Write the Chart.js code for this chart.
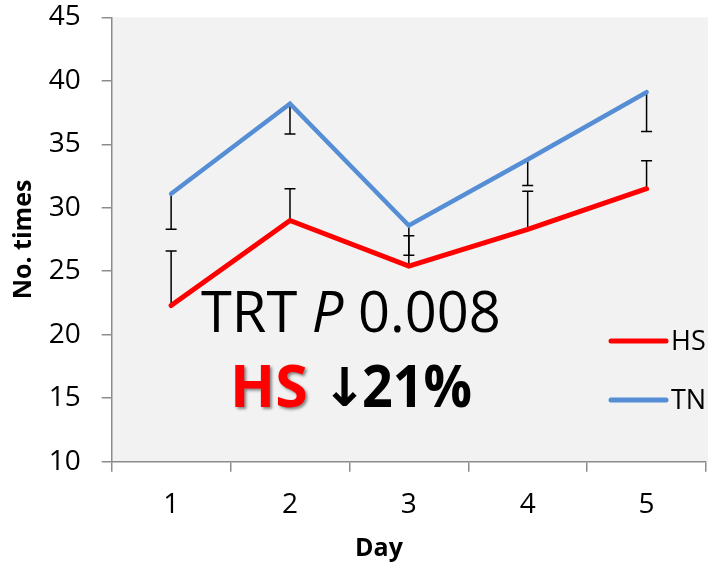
<!DOCTYPE html>
<html>
<head>
<meta charset="utf-8">
<script src="https://cdn.jsdelivr.net/npm/chart.js@4"></script>
<style>
  html, body { margin: 0; padding: 0; background: #fff; }
  #wrap { width: 708px; height: 566px; }
</style>
</head>
<body>
<div id="wrap"><canvas id="myChart" width="708" height="566"></canvas></div>
<script>
// values
const days = ['1', '2', '3', '4', '5'];
const hsValues = [22.3, 29.0, 25.4, 28.3, 31.5];
const tnValues = [31.1, 38.2, 28.6, 33.8, 39.1];
const hsErrUp = [4.3, 2.5, 2.4, 3.0, 2.2];     // HS bars go up
const tnErrDown = [2.8, 2.4, 2.35, 2.05, 3.1]; // TN bars go down
const yMin = 10, yMax = 45, yStep = 5;

const axisGray = '#8c8c8c';
const FONT = "'Open Sans', 'Noto Sans', sans-serif";

// draw text squeezed to a target width if it comes out wider
function fitText(ctx, text, x, y, maxW) {
    const w = ctx.measureText(text).width;
    const sx = w > maxW ? maxW / w : 1;
    ctx.save();
    ctx.translate(x, y);
    ctx.scale(sx, 1);
    ctx.fillText(text, 0, 0);
    ctx.restore();
    return w * sx;
}

const plotBackground = {
    id: 'plotBackground',
    beforeDraw(chart) {
        const ctx = chart.ctx, a = chart.chartArea;
        ctx.save();
        ctx.fillStyle = '#fff';
        ctx.fillRect(0, 0, chart.width, chart.height);
        ctx.fillStyle = '#f2f2f2';
        ctx.fillRect(a.left, a.top, chart.width - a.left, a.bottom - a.top);
        ctx.restore();
    }
};

const errorBars = {
    id: 'errorBars',
    beforeDatasetsDraw(chart) {
        const ctx = chart.ctx, x = chart.scales.x, y = chart.scales.y;
        const sets = [
            { vals: hsValues, err: hsErrUp, dir: 1 },
            { vals: tnValues, err: tnErrDown, dir: -1 }
        ];
        ctx.save();
        ctx.strokeStyle = '#000';
        ctx.lineWidth = 1.5;
        sets.forEach(s => {
            s.vals.forEach((v, i) => {
                const px = x.getPixelForValue(i);
                const p0 = y.getPixelForValue(v);
                const p1 = y.getPixelForValue(v + s.dir * s.err[i]);
                ctx.beginPath();
                ctx.moveTo(px, p0);
                ctx.lineTo(px, p1);
                ctx.moveTo(px - 5.5, p1);
                ctx.lineTo(px + 5.5, p1);
                ctx.stroke();
            });
        });
        ctx.restore();
    }
};

const labelsAndNotes = {
    id: 'labelsAndNotes',
    afterDraw(chart) {
        const ctx = chart.ctx, a = chart.chartArea;
        ctx.save();
        ctx.fillStyle = '#000';

        // axis titles
        ctx.font = 'bold 25px ' + FONT;
        ctx.textAlign = 'center';
        ctx.textBaseline = 'alphabetic';
        ctx.fillText('Day', 379, 556);
        ctx.save();
        ctx.translate(31, (a.top + a.bottom) / 2);
        ctx.rotate(-Math.PI / 2);
        ctx.fillText('No. times', 0, 0);
        ctx.restore();

        // legend inside the plot
        ctx.textAlign = 'left';
        ctx.textBaseline = 'middle';
        ctx.font = '27px ' + FONT;
        const legY = [341, 400];
        chart.data.datasets.forEach((ds, i) => {
            ctx.strokeStyle = ds.borderColor;
            ctx.lineWidth = 5;
            ctx.lineCap = 'round';
            ctx.beginPath();
            ctx.moveTo(611, legY[i]);
            ctx.lineTo(666, legY[i]);
            ctx.stroke();
            ctx.fillStyle = '#000';
            ctx.fillText(ds.label, 671, legY[i] + 1);
        });

        // TRT P 0.008
        ctx.textBaseline = 'alphabetic';
        ctx.fillStyle = '#000';
        let x = 201;
        ctx.font = '56px ' + FONT;
        x += fitText(ctx, 'TRT ', x, 332, 1000);
        ctx.font = 'italic 56px ' + FONT;
        x += fitText(ctx, 'P', x, 332, 1000);
        ctx.font = '56px ' + FONT;
        fitText(ctx, ' 0.008', x, 332, 1000);

        // HS (red, shadowed) then arrow and 21%
        ctx.font = 'bold 59px ' + FONT;
        ctx.save();
        ctx.shadowColor = 'rgba(0,0,0,0.45)';
        ctx.shadowOffsetX = 2;
        ctx.shadowOffsetY = 2;
        ctx.shadowBlur = 3;
        ctx.fillStyle = '#ff0000';
        fitText(ctx, 'HS', 230, 407, 82);
        ctx.restore();

        // arrow glyph scaled into its box
        ctx.font = "bold 60px 'DejaVu Sans'";
        const m = ctx.measureText('\u2193');
        const gw = m.actualBoundingBoxLeft + m.actualBoundingBoxRight;
        const gh = m.actualBoundingBoxAscent + m.actualBoundingBoxDescent;
        ctx.save();
        ctx.translate(332, 367);
        ctx.scale(25 / gw, 40 / gh);
        ctx.fillText('\u2193', m.actualBoundingBoxLeft, m.actualBoundingBoxAscent);
        ctx.restore();

        ctx.font = 'bold 59px ' + FONT;
        fitText(ctx, '21%', 362, 407, 110);
        ctx.restore();
    }
};

const data = {
    labels: days,
    datasets: [
        {
            label: 'HS',
            data: hsValues,
            borderColor: '#ff0000',
            borderWidth: 5,
            borderCapStyle: 'round',
            pointRadius: 0,
            tension: 0
        },
        {
            label: 'TN',
            data: tnValues,
            borderColor: '#558ed5',
            borderWidth: 4.5,
            borderCapStyle: 'round',
            pointRadius: 0,
            tension: 0
        }
    ]
};

const config = {
    type: 'line',
    data: data,
    options: {
        responsive: false,
        animation: false,
        devicePixelRatio: 1,
        layout: { padding: { top: 17.3, right: 2, left: 0, bottom: 0 } },
        plugins: {
            legend: { display: false },
            tooltip: { enabled: false }
        },
        scales: {
            x: {
                type: 'category',
                offset: true,
                grid: {
                    offset: true,
                    drawOnChartArea: false,
                    tickLength: 10,
                    color: axisGray,
                    lineWidth: 1.5
                },
                border: { color: axisGray, width: 1.5 },
                ticks: {
                    color: '#000',
                    padding: 17,
                    font: { family: FONT, size: 28 }
                },
                afterFit(scale) {
                    scale.height = 104.3;
                    scale.paddingLeft = 0;
                    scale.paddingRight = 0;
                }
            },
            y: {
                min: yMin,
                max: yMax,
                grid: {
                    drawOnChartArea: false,
                    tickLength: 10,
                    color: axisGray,
                    lineWidth: 1.5
                },
                border: { color: axisGray, width: 1.5 },
                ticks: {
                    stepSize: yStep,
                    color: '#000',
                    padding: 21,
                    font: { family: FONT, size: 28 }
                },
                afterFit(scale) {
                    scale.width = 111.7;
                    scale.paddingTop = 0;
                    scale.paddingBottom = 0;
                }
            }
        }
    },
    plugins: [plotBackground, errorBars, labelsAndNotes]
};

const ctx = document.getElementById('myChart').getContext('2d');
new Chart(ctx, config);
</script>
</body>
</html>
